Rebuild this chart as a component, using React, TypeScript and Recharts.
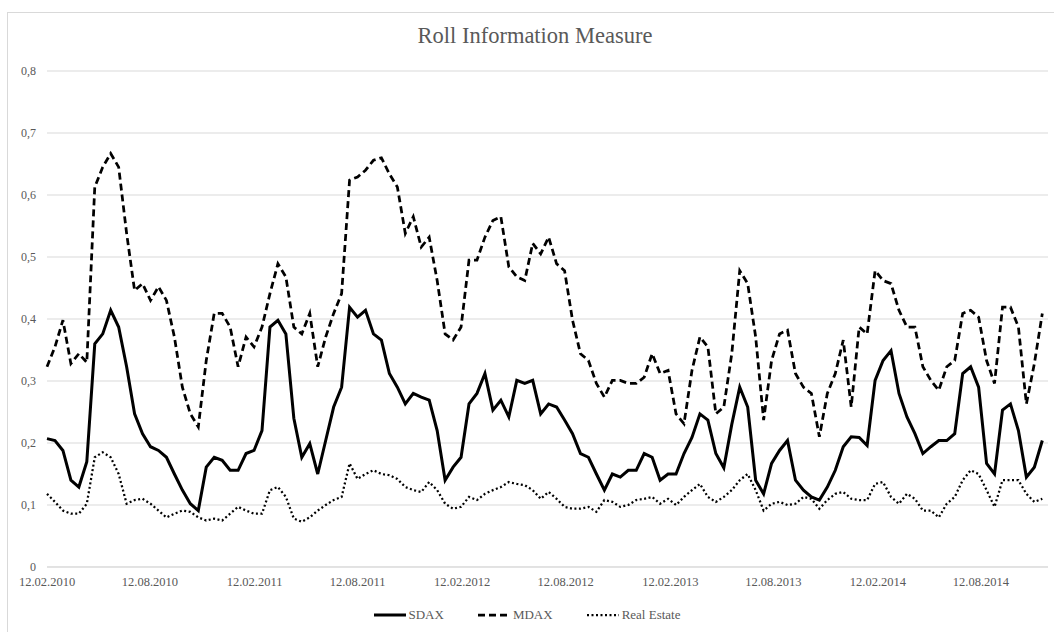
import React from 'react';
import { LineChart, Line, XAxis, YAxis, CartesianGrid, Legend } from 'recharts';

// Sampling: one observation every 14 days, starting 12.02.2010
const START_LABEL = '12.02.2010';
const STEP_DAYS = 14;

const tickDays = [0, 181, 365, 546, 730, 912, 1096, 1277, 1461, 1642];
const tickLabels = [
  '12.02.2010', '12.08.2010', '12.02.2011', '12.08.2011', '12.02.2012',
  '12.08.2012', '12.02.2013', '12.08.2013', '12.02.2014', '12.08.2014',
];
const yTicks = [0, 0.1, 0.2, 0.3, 0.4, 0.5, 0.6, 0.7, 0.8];

const sdax = [
  0.207, 0.204, 0.188, 0.14, 0.129, 0.17, 0.36, 0.376, 0.414, 0.387,
  0.323, 0.247, 0.215, 0.194, 0.188, 0.177, 0.15, 0.124, 0.102, 0.091,
  0.161, 0.177, 0.172, 0.156, 0.156, 0.183, 0.188, 0.22, 0.387, 0.398,
  0.376, 0.24, 0.177, 0.199, 0.15, 0.204, 0.258, 0.29, 0.419, 0.403,
  0.414, 0.376, 0.366, 0.312, 0.29, 0.263, 0.28, 0.274, 0.269, 0.22,
  0.14, 0.161, 0.177, 0.263, 0.28, 0.312, 0.253, 0.269, 0.242, 0.301,
  0.296, 0.301, 0.247, 0.263, 0.258, 0.237, 0.215, 0.183, 0.177, 0.15,
  0.124, 0.15, 0.145, 0.156, 0.156, 0.183, 0.177, 0.14, 0.15, 0.15,
  0.183, 0.209, 0.247, 0.237, 0.183, 0.16, 0.23, 0.29, 0.258, 0.14,
  0.118, 0.167, 0.188, 0.204, 0.14, 0.124, 0.113, 0.108, 0.129, 0.156,
  0.194, 0.21, 0.209, 0.196, 0.301, 0.333, 0.349, 0.28, 0.242, 0.215,
  0.183, 0.194, 0.204, 0.204, 0.215, 0.312, 0.323, 0.29, 0.167, 0.15,
  0.253, 0.263, 0.22, 0.145, 0.161, 0.204,
];

const mdax = [
  0.323, 0.355, 0.398, 0.328, 0.344, 0.33, 0.613, 0.645, 0.667, 0.645,
  0.538, 0.446, 0.457, 0.43, 0.452, 0.43, 0.371, 0.29, 0.247, 0.226,
  0.333, 0.409, 0.409, 0.387, 0.323, 0.371, 0.355, 0.387, 0.441, 0.489,
  0.468, 0.387, 0.376, 0.409, 0.323, 0.371, 0.409, 0.441, 0.624, 0.629,
  0.64, 0.656, 0.66, 0.634, 0.613, 0.538, 0.565, 0.516, 0.532, 0.462,
  0.376, 0.366, 0.387, 0.495, 0.495, 0.532, 0.559, 0.565, 0.484, 0.468,
  0.462, 0.522, 0.505, 0.532, 0.489, 0.478, 0.398, 0.344, 0.333, 0.296,
  0.274, 0.301, 0.301, 0.296, 0.296, 0.306, 0.344, 0.312, 0.317, 0.247,
  0.231, 0.317, 0.371, 0.355, 0.247, 0.258, 0.344, 0.478, 0.457, 0.371,
  0.237, 0.333, 0.376, 0.382, 0.312, 0.29, 0.28, 0.21, 0.28, 0.312,
  0.366, 0.258, 0.387, 0.376, 0.478, 0.462, 0.457, 0.414, 0.387, 0.387,
  0.323, 0.301, 0.285, 0.323, 0.333, 0.409, 0.414, 0.403, 0.333, 0.296,
  0.419, 0.419, 0.387, 0.263, 0.328, 0.409,
];

const realEstate = [
  0.118, 0.105, 0.091, 0.086, 0.086, 0.102, 0.177, 0.185, 0.177, 0.15,
  0.102, 0.108, 0.11, 0.102, 0.091, 0.08, 0.086, 0.091, 0.089, 0.08,
  0.075, 0.078, 0.075, 0.086, 0.097, 0.091, 0.086, 0.086, 0.124, 0.129,
  0.113, 0.078, 0.073, 0.08, 0.091, 0.1, 0.108, 0.113, 0.167, 0.142,
  0.15, 0.156, 0.15, 0.148, 0.142, 0.129, 0.124, 0.121, 0.137, 0.124,
  0.102, 0.094, 0.097, 0.113, 0.108, 0.118, 0.124, 0.129, 0.137, 0.134,
  0.132, 0.124, 0.11, 0.121, 0.11, 0.097, 0.094, 0.094, 0.097, 0.089,
  0.108, 0.105, 0.097, 0.1, 0.108, 0.11, 0.113, 0.102, 0.11, 0.1,
  0.113, 0.124, 0.134, 0.113, 0.105, 0.113, 0.124, 0.14, 0.15, 0.124,
  0.091, 0.102, 0.105, 0.1, 0.102, 0.113, 0.11, 0.094, 0.108, 0.118,
  0.121, 0.11, 0.108, 0.108, 0.134, 0.137, 0.113, 0.102, 0.118, 0.11,
  0.091, 0.091, 0.08, 0.102, 0.113, 0.14, 0.156, 0.15, 0.124, 0.097,
  0.14, 0.14, 0.14, 0.118, 0.105, 0.11,
];

const data = sdax.map((v, i) => ({
  day: i * STEP_DAYS,
  SDAX: v,
  MDAX: mdax[i],
  RealEstate: realEstate[i],
}));

const FONT = '"Liberation Serif", "Times New Roman", serif';
const TEXT = '#595959';
const GRID = '#d9d9d9';

const series = [
  { key: 'SDAX', name: 'SDAX', width: 3, dash: undefined as string | undefined },
  { key: 'MDAX', name: 'MDAX', width: 2.75, dash: '7 4' },
  { key: 'RealEstate', name: 'Real Estate', width: 2.25, dash: '2 2.5' },
];

const LegendContent = () => (
  <div
    style={{
      display: 'flex',
      justifyContent: 'center',
      alignItems: 'center',
      fontFamily: FONT,
      fontSize: 13,
      color: TEXT,
      height: 22,
      paddingLeft: 6,
    }}
  >
    {series.map((s) => (
      <div key={s.key} style={{ display: 'flex', alignItems: 'center', margin: '0 17px' }}>
        <svg width={32} height={10} style={{ marginRight: 3 }}>
          <line
            x1={0}
            y1={5}
            x2={32}
            y2={5}
            stroke="#000"
            strokeWidth={s.width}
            strokeDasharray={s.dash}
          />
        </svg>
        <span>{s.name}</span>
      </div>
    ))}
  </div>
);

const fmtY = (v: number) => (v === 0 ? '0' : v.toFixed(1).replace('.', ','));
const fmtX = (d: number) => {
  const idx = tickDays.indexOf(d);
  return idx >= 0 ? tickLabels[idx] : START_LABEL;
};

export default function App() {
  return (
    <div
      style={{
        position: 'fixed',
        left: 0,
        top: 0,
        width: 1054,
        height: 632,
        overflow: 'hidden',
        background: '#fff',
      }}
    >
      <div
        style={{
          position: 'absolute',
          left: 7,
          top: 12,
          width: 1100,
          height: 700,
          border: `1px solid ${GRID}`,
        }}
      />
      <div
        style={{
          position: 'absolute',
          left: 0,
          top: 23,
          width: 1070,
          textAlign: 'center',
          fontFamily: FONT,
          fontSize: 22.5,
          color: TEXT,
        }}
      >
        Roll Information Measure
      </div>
      <div style={{ position: 'absolute', left: 0, top: 0 }}>
        <LineChart
          width={1054}
          height={632}
          data={data}
          margin={{ top: 71, right: 6, left: 0, bottom: 6 }}
        >
          <CartesianGrid vertical={false} stroke={GRID} strokeWidth={1} />
          <XAxis
            dataKey="day"
            type="number"
            domain={[0, 1760]}
            ticks={tickDays}
            tickFormatter={fmtX}
            tickLine={false}
            tickSize={0}
            tickMargin={10}
            axisLine={{ stroke: GRID }}
            height={37}
            interval={0}
            tick={{ fontFamily: FONT, fontSize: 12.5, fill: TEXT }}
          />
          <YAxis
            type="number"
            domain={[0, 0.8]}
            ticks={yTicks}
            tickFormatter={fmtY}
            axisLine={false}
            tickLine={false}
            tickSize={0}
            tickMargin={11}
            width={47}
            interval={0}
            tick={{ fontFamily: FONT, fontSize: 12, fill: TEXT }}
          />
          <Legend verticalAlign="bottom" height={22} content={<LegendContent />} />
          {series.map((s) => (
            <Line
              key={s.key}
              type="linear"
              dataKey={s.key}
              name={s.name}
              stroke="#000"
              strokeWidth={s.width}
              strokeDasharray={s.dash}
              dot={false}
              activeDot={false}
              isAnimationActive={false}
            />
          ))}
        </LineChart>
      </div>
    </div>
  );
}
